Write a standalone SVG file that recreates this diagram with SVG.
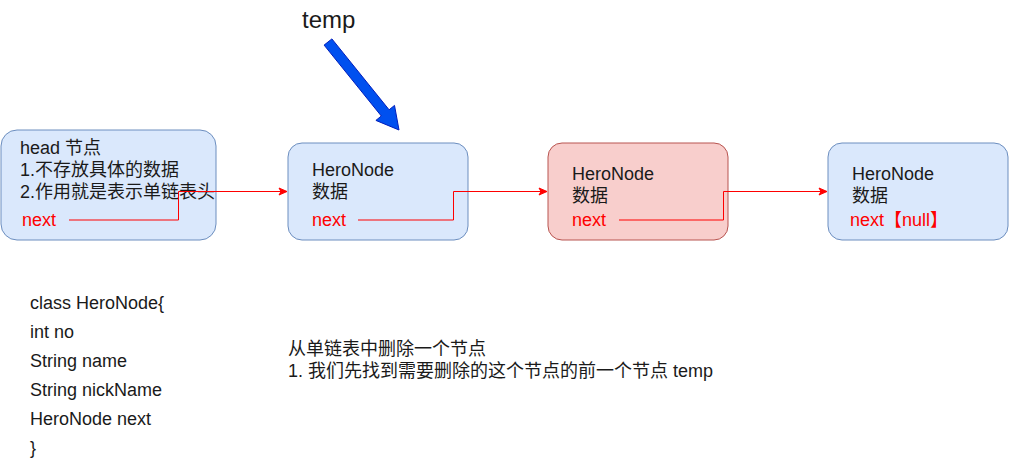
<svg xmlns="http://www.w3.org/2000/svg" width="1009" height="471" viewBox="0 0 1009 471">
<defs>
<style>
text{font-family:"Liberation Sans","Noto Sans CJK SC",sans-serif;font-size:18px;fill:#1a1a1a}
.r{fill:#ff0000}
.blue{fill:#dae8fc;stroke:#6c8ebf;stroke-width:1}
.red{fill:#f8cecc;stroke:#b85450;stroke-width:1}
.c{fill:none;stroke:#ff0000;stroke-width:1}
</style>
<marker id="ah" markerWidth="10" markerHeight="10" refX="9" refY="5" orient="auto" markerUnits="userSpaceOnUse">
<path d="M1,1.5 L9,5 L1,8.5 L3,5 Z" fill="#ff0000" stroke="#ff0000"/>
</marker>
</defs>
<rect width="1009" height="471" fill="#ffffff"/>
<g id="head">
<rect class="blue" x="1" y="130" width="215" height="110" rx="16"/>
<text x="20" y="154">head 节点</text>
<text x="20" y="176">1.不存放具体的数据</text>
<text x="20" y="198">2.作用就是表示单链表头</text>
<text class="r" x="22" y="226">next</text>
</g>
<g id="node1">
<rect class="blue" x="288" y="143" width="180" height="97" rx="14"/>
<text x="312" y="176">HeroNode</text>
<text x="312" y="198">数据</text>
<text class="r" x="312" y="226">next</text>
</g>
<g id="node2">
<rect class="red" x="548" y="143" width="180" height="97" rx="14"/>
<text x="572" y="180">HeroNode</text>
<text x="572" y="202">数据</text>
<text class="r" x="572" y="226">next</text>
</g>
<g id="node3">
<rect class="blue" x="828" y="143" width="180" height="97" rx="14"/>
<text x="852" y="180">HeroNode</text>
<text x="852" y="202">数据</text>
<text class="r" x="850" y="226">next【null】</text>
</g>
<g id="connectors">
<polyline class="c" points="69,220 178.5,220 178.5,191.5 287,191.5" marker-end="url(#ah)"/>
<polyline class="c" points="358,220 453.5,220 453.5,191.5 547,191.5" marker-end="url(#ah)"/>
<polyline class="c" points="619,220 723.5,220 723.5,191.5 827,191.5" marker-end="url(#ah)"/>
</g>
<g id="temp">
<text x="302" y="28" style="font-size:24px">temp</text>
<polygon points="331.9,38.9 389.1,109.8 394.5,105.4 399,130 375.9,120.4 381.3,116 324.1,45.1" fill="#0050ef" stroke="#001dbc" stroke-width="1"/>
</g>
<g id="classdef">
<text x="30" y="309">class HeroNode{</text>
<text x="30" y="338">int no</text>
<text x="30" y="367">String name</text>
<text x="30" y="396">String nickName</text>
<text x="30" y="425">HeroNode next</text>
<text x="30" y="454">}</text>
</g>
<g id="note">
<text x="288" y="355">从单链表中删除一个节点</text>
<text x="288" y="377">1. 我们先找到需要删除的这个节点的前一个节点 temp</text>
</g>
</svg>
